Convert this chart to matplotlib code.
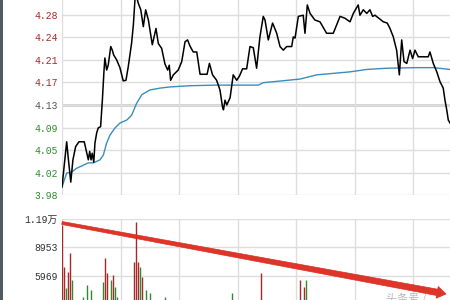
import numpy as np
import matplotlib
matplotlib.use('Agg')
import matplotlib.pyplot as plt
from matplotlib.patches import Polygon, Rectangle

# minute index / price of the black price line
price_t = [0, 2.4, 3.3, 4.5, 5.6, 7, 8.7, 11.4, 12.7, 13.5, 14.2, 14.9, 15.5, 16.3, 16.9,
           17.8, 18.6, 19.8, 20.7, 21.5, 22, 22.9, 23.7, 25, 25.8, 26.5, 28, 29.7, 31.4,
           32.8, 34, 35.7, 36.6, 37.4, 38, 39.1, 40.4, 41.7, 42.9, 44.3, 46.3, 48.2, 49.4,
           51.1, 52.8, 54.2, 55, 55.7, 57.1, 59.6, 61.4, 63.1, 64.4, 65.6, 67.3, 69.1,
           70.8, 74.4, 75.6, 77.2, 79.3, 81, 82.3, 82.8, 83.6, 84.5, 86.2, 87.8, 89.6,
           91, 92.6, 94.7, 96.4, 98.1, 99.8, 101.5, 103.2, 104.1, 105.8, 108, 110.1,
           111.8, 113.5, 115.2, 117.8, 118.6, 119.5, 121.2, 123.7, 124.6, 125.8, 127.2,
           129.7, 132.3, 135.7, 139.1, 142.6, 145.1, 147.7, 149.4, 151.9, 152.8, 154.5,
           156.3, 157.9, 159.3, 160.5, 164.8, 166.8, 168.2, 169.9, 171.6, 173, 174.2,
           175.4, 176.8, 178.5, 179.8, 181, 182.7, 187.8, 188.7, 190.4, 192.2, 193.8,
           195.5, 196.4, 197.3, 198.1, 199]
price_v = [3.994, 4.069, 4.039, 4.002, 4.039, 4.061, 4.069, 4.069, 4.050, 4.039, 4.053,
           4.039, 4.050, 4.035, 4.067, 4.084, 4.092, 4.094, 4.138, 4.185, 4.208, 4.188,
           4.196, 4.227, 4.221, 4.213, 4.205, 4.192, 4.170, 4.171, 4.194, 4.233, 4.263,
           4.304, 4.313, 4.299, 4.288, 4.260, 4.288, 4.271, 4.230, 4.257, 4.232, 4.224,
           4.198, 4.188, 4.196, 4.171, 4.180, 4.188, 4.202, 4.235, 4.238, 4.228, 4.218,
           4.218, 4.181, 4.181, 4.199, 4.180, 4.171, 4.155, 4.127, 4.122, 4.138, 4.130,
           4.142, 4.180, 4.171, 4.178, 4.190, 4.190, 4.227, 4.225, 4.191, 4.243, 4.277,
           4.271, 4.238, 4.266, 4.249, 4.227, 4.221, 4.227, 4.227, 4.243, 4.241, 4.277,
           4.279, 4.249, 4.296, 4.282, 4.271, 4.268, 4.249, 4.249, 4.277, 4.274, 4.268,
           4.282, 4.296, 4.279, 4.288, 4.282, 4.288, 4.277, 4.279, 4.268, 4.266, 4.257,
           4.243, 4.221, 4.180, 4.238, 4.202, 4.199, 4.221, 4.207, 4.221, 4.210, 4.210,
           4.218, 4.199, 4.185, 4.169, 4.158, 4.138, 4.122, 4.105, 4.100]

# average price line
avg_t = [0, 2.4, 5, 7.5, 10.9, 13.5, 16.1, 19.5, 21.2, 22.9, 24.6, 27.2, 29.7, 33.2,
         35.7, 38.3, 40.9, 45.1, 50.3, 55.4, 65.6, 79.3, 100.7, 103.2, 122, 130.6,
         147.7, 156.3, 166.5, 181.9, 190.4, 199]
avg_v = [3.994, 4.017, 4.019, 4.025, 4.030, 4.034, 4.034, 4.039, 4.047, 4.067, 4.080,
         4.092, 4.100, 4.105, 4.113, 4.133, 4.147, 4.155, 4.158, 4.160, 4.162, 4.163,
         4.163, 4.167, 4.173, 4.180, 4.185, 4.189, 4.191, 4.192, 4.192, 4.189]

# volume bars
vol_t = [0, 1, 2, 3, 4, 5, 11, 13, 15, 21, 22, 23, 25, 26, 27, 28, 37, 38, 39, 40, 41,
         43, 45, 53, 55, 62, 87, 102, 122, 124, 125]
vol_v = [11300, 6940, 4680, 6420, 8340, 5550, 3800, 5030, 4500, 5370, 7820, 6250, 5550,
         6070, 4850, 3800, 7470, 11650, 7470, 6940, 5900, 4500, 4160, 3800, 3500, 3500,
         4160, 6250, 5550, 4850, 5550]
vol_up = [1, 1, 0, 1, 1, 0, 0, 0, 0, 0, 1, 1, 0, 1, 0, 0, 1, 1, 1, 0, 1, 0, 0, 0, 0, 0,
          0, 1, 1, 1, 0]

prev_close = 4.13
price_step = 0.0375
price_labels = ['3.98', '4.02', '4.05', '4.09', '4.13', '4.17', '4.21', '4.24', '4.28', '4.32']
vol_ticks = [0, 2984, 5969, 8953, 11937]
vol_labels = ['', '2984', '5969', '8953', '1.19万']

W, H = 450, 300
RED = '#a82828'
GREEN = '#2f8a2f'
GRID = '#dedede'

def fx(px):
    return px / W

def fy(py):
    return 1 - py / H

def style_axes(ax):
    for s in ax.spines.values():
        s.set_visible(False)
    ax.set_facecolor('none')
    ax.tick_params(length=0, pad=3)
    ax.set_xlim(0, 240)
    ax.set_xticks(np.arange(0, 241, 30))
    ax.set_xticklabels([])
    ax.grid(True, color=GRID, linewidth=1.0)
    ax.set_axisbelow(True)

fig = plt.figure(figsize=(4.5, 3), dpi=100)
fig.patch.set_facecolor('white')

# price panel
ax = fig.add_axes([fx(62), fy(195.4), 468 / W, (195.4 + 8) / H])
style_axes(ax)
pticks = [prev_close + k * price_step for k in range(-4, 6)]
ax.set_ylim(pticks[0], pticks[-1])
ax.set_yticks(pticks)
ax.set_yticklabels(price_labels, family='Liberation Mono', fontsize=7)
for lab, v in zip(ax.get_yticklabels(), pticks):
    if abs(v - prev_close) < 1e-6:
        lab.set_color('#555555')
    elif v > prev_close:
        lab.set_color(RED)
    else:
        lab.set_color(GREEN)
ax.axhline(prev_close, color='#cfcfcf', linewidth=2, zorder=0)
ax.plot(avg_t, avg_v, color='#3b8dba', linewidth=1.0)
ax.plot(price_t, price_v, color='black', linewidth=1.1)

# volume panel
axv = fig.add_axes([fx(62), fy(333), 468 / W, (333 - 219) / H])
style_axes(axv)
axv.set_ylim(0, vol_ticks[-1])
axv.set_yticks(vol_ticks)
axv.set_yticklabels(vol_labels, family=['Liberation Mono', 'Noto Sans CJK SC'],
                    fontsize=7, color='#333333')
cols = [RED if u else GREEN for u in vol_up]
axv.vlines(vol_t, 0, vol_v, colors=cols, linewidth=1.0)

# dark strip on the left edge
fig.patches.append(Rectangle((0, 0), fx(3), 1, transform=fig.transFigure,
                             facecolor='#4f5c66', edgecolor='none'))

# hand drawn red arrow
x0, y0, x1, y1 = 62, 223, 446, 294
d = np.array([x1 - x0, y1 - y0], float)
d /= np.hypot(*d)
n = np.array([-d[1], d[0]])
p0 = np.array([x0, y0], float)
pb = np.array([x1, y1], float) - d * 9
tip = np.array([x1, y1], float)
pts = [p0 + n * 1.5, pb + n * 3.2, pb + n * 6, tip, pb - n * 6, pb - n * 3.2, p0 - n * 1.5]
pts = [(fx(p[0]), fy(p[1])) for p in pts]
fig.patches.append(Polygon(pts, closed=True, transform=fig.transFigure,
                           facecolor='#dd2a1e', edgecolor='#dd2a1e', linewidth=0.5,
                           alpha=0.95, zorder=5))

fig.text(fx(386), fy(298), '头条号 /', family=['Noto Sans CJK SC', 'DejaVu Sans'],
         fontsize=8, color='#b8b8b8', va='center', ha='left')

fig.savefig('out.png', dpi=100)
